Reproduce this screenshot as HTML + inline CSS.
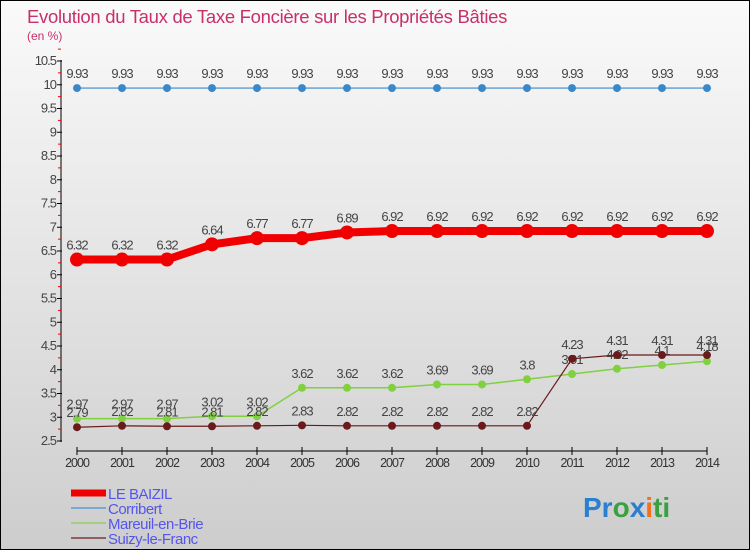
<!DOCTYPE html>
<html><head><meta charset="utf-8"><style>
body{margin:0;width:750px;height:550px;overflow:hidden;font-family:"Liberation Sans",sans-serif}
#wrap{position:absolute;left:0;top:0;width:748px;height:548px;border:1px solid #000;background:linear-gradient(#fafafa,#cdcdcd)}
</style></head><body>
<div id="wrap">
<svg id="c" width="748" height="548" style="position:absolute;left:0;top:0">
<text x="26" y="22" font-size="18.5" fill="#c8306a" letter-spacing="-0.3">Evolution du Taux de Taxe Foncière sur les Propriétés Bâties</text>
<text x="26" y="39" font-size="12" fill="#c8306a">(en %)</text>
<text x="582" y="516" font-size="28" font-weight="bold"><tspan fill="#2a7fd0">Pr</tspan><tspan fill="#3aa040">o</tspan><tspan fill="#2a7fd0">x</tspan><tspan fill="#f07020">i</tspan><tspan fill="#3aa040">ti</tspan></text>
</svg>
</div>
<script>
const years=[2000,2001,2002,2003,2004,2005,2006,2007,2008,2009,2010,2011,2012,2013,2014];
const baizil=[6.32,6.32,6.32,6.64,6.77,6.77,6.89,6.92,6.92,6.92,6.92,6.92,6.92,6.92,6.92];
const corribert=[9.93,9.93,9.93,9.93,9.93,9.93,9.93,9.93,9.93,9.93,9.93,9.93,9.93,9.93,9.93];
const mareuil=[2.97,2.97,2.97,3.02,3.02,3.62,3.62,3.62,3.69,3.69,3.8,3.91,4.02,4.1,4.18];
const suizy=[2.79,2.82,2.81,2.81,2.82,2.83,2.82,2.82,2.82,2.82,2.82,4.23,4.31,4.31,4.31];
const yTicks=[2.5,3,3.5,4,4.5,5,5.5,6,6.5,7,7.5,8,8.5,9,9.5,10,10.5];
const NS='http://www.w3.org/2000/svg',svg=document.getElementById('c');
const X=i=>76+i*45, Y=v=>440-(v-2.5)*47.5;
function mk(t,a,p){const e=document.createElementNS(NS,t);for(const k in a)e.setAttribute(k,a[k]);(p||svg).appendChild(e);return e;}
let ax=mk('line',{x1:60,y1:59,x2:60,y2:441,stroke:'#000'});


yTicks.forEach(v=>{const y=Y(v);mk('line',{x1:56,y1:y,x2:61,y2:y,stroke:'#000'});
 mk('line',{x1:57,y1:Y(v+0.25),x2:60,y2:Y(v+0.25),stroke:'#e00'});
 const t=mk('text',{x:55,y:y+4,'font-size':13,'text-anchor':'end',fill:'#444','letter-spacing':'-1'});t.textContent=v;
 
 });
let xa=mk('line',{x1:76,y1:450,x2:706,y2:450,stroke:'#000'});


years.forEach((yr,i)=>{mk('line',{x1:X(i),y1:446,x2:X(i),y2:454,stroke:'#000'});
 const t=mk('text',{x:X(i),y:466,'font-size':12.5,'text-anchor':'middle',fill:'#333','letter-spacing':'-1'});t.textContent=yr;
 
 });
function series(d,col,w,r,name){
 const g=mk('g',{});
 
 
 mk('polyline',{points:d.map((v,i)=>X(i)+','+Y(v)).join(' '),fill:'none',stroke:col,'stroke-width':w},g);
 d.forEach((v,i)=>{const c=mk('circle',{cx:X(i),cy:Y(v),r:r,fill:col},g);
  
  
  const t=mk('text',{x:X(i),y:Y(v)-10,'font-size':13,'text-anchor':'middle',fill:'#444','letter-spacing':'-1'},g);t.textContent=v;
  
  });
}
series(corribert,'#3a88c8',1.2,4,'series-corribert');
series(mareuil,'#80d040',1.5,4,'series-mareuil');
series(suizy,'#6a1a1a',1.2,4,'series-suizy');
series(baizil,'#f00000',8,7,'series-le-baizil');
const legend=[['LE BAIZIL','#f00000',7],['Corribert','#7aa8d0',2],['Mareuil-en-Brie','#a0d080',2],['Suizy-le-Franc','#906060',2]];
legend.forEach((l,i)=>{const y=492+i*15;const g=mk('g',{});
 
 
 mk('line',{x1:70,y1:y,x2:105,y2:y,stroke:l[1],'stroke-width':l[2]},g);
 const t=mk('text',{x:107,y:y+6,'font-size':15,fill:'#5555ee','letter-spacing':'-0.5'},g);t.textContent=l[0];});
</script>
</body></html>
